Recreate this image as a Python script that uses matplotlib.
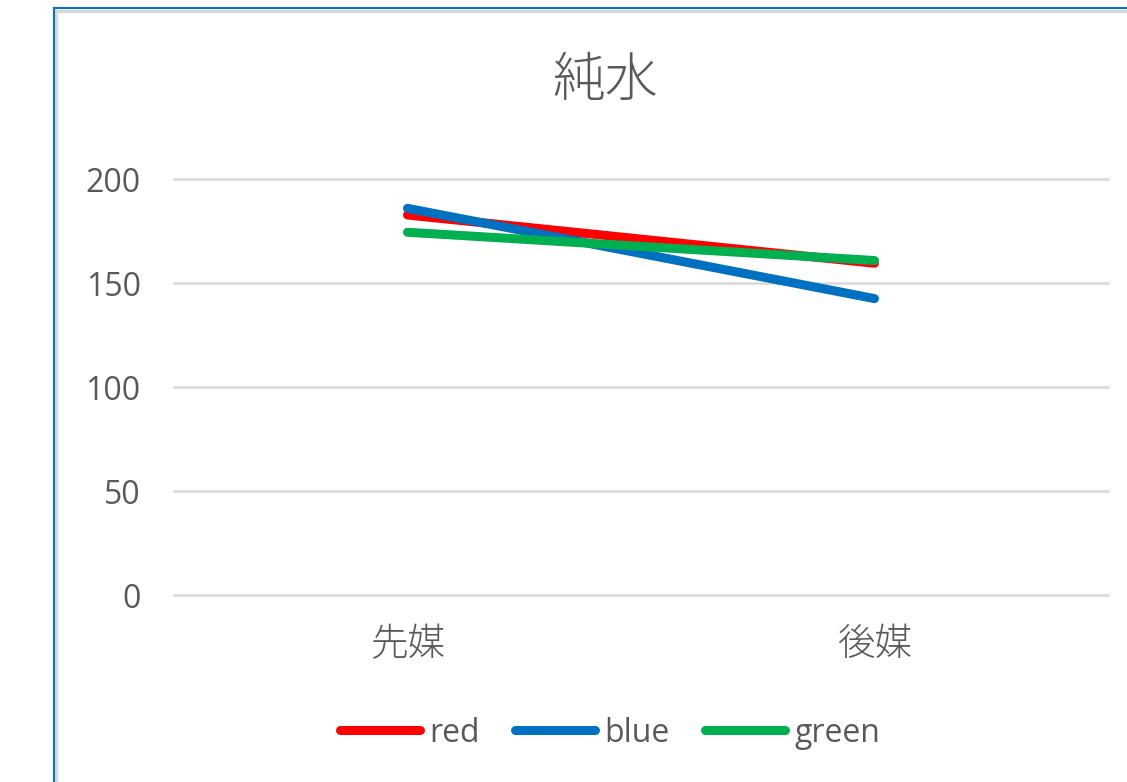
import matplotlib
matplotlib.use("Agg")
import matplotlib.pyplot as plt
from matplotlib.lines import Line2D

# データ
categories = ['先媒', '後媒']
red = [182.7, 159.5]
blue = [185.9, 142.5]
green = [174.4, 160.8]
yticks = [0, 50, 100, 150, 200]

plt.rcParams['font.family'] = ['Open Sans', 'Noto Sans CJK JP', 'DejaVu Sans']
gray = '#595959'

W, H = 1127, 782
fig = plt.figure(figsize=(W / 100, H / 100), dpi=100)

# 枠線 (左と上のみ見える)
fig.add_artist(Line2D([56 / W, 56 / W], [0, 1 - 11 / H], color='#d9d9d9', lw=2.5))
fig.add_artist(Line2D([56 / W, 1], [1 - 11 / H, 1 - 11 / H], color='#d9d9d9', lw=2.5))
fig.add_artist(Line2D([54 / W, 54 / W], [0, 1 - 8 / H], color='#0a6fc8', lw=1.5))
fig.add_artist(Line2D([54 / W, 1], [1 - 8 / H, 1 - 8 / H], color='#0a6fc8', lw=1.5))

ax = fig.add_axes([174 / W, 1 - 595 / H, 934 / W, 416 / H])
x = range(len(categories))
ax.plot(x, red, color='#ff0000', lw=6.5, solid_capstyle='round', label='red')
ax.plot(x, blue, color='#0070c0', lw=6.5, solid_capstyle='round', label='blue')
ax.plot(x, green, color='#00b050', lw=6.5, solid_capstyle='round', label='green')

ax.set_xlim(-0.5, 1.5)
ax.set_ylim(0, 200)
ax.set_yticks(yticks)
ax.set_xticks(list(x))
ax.set_xticklabels(categories, fontweight='light')
ax.grid(axis='y', color='#d9d9d9', lw=1.8)
ax.set_axisbelow(True)
for gl in ax.get_ygridlines():
    gl.set_clip_on(False)
for s in ax.spines.values():
    s.set_visible(False)
ax.tick_params(axis='y', length=0, pad=24, labelsize=23, labelcolor=gray)
ax.tick_params(axis='x', length=0, pad=22, labelsize=27, labelcolor=gray)

fig.text(605 / W, 1 - 82 / H, '純水', ha='center', va='center', fontsize=38,
         color=gray, fontweight='light')

fig.legend(loc='center', bbox_to_anchor=(610 / W, 1 - 733 / H), ncol=3, frameon=False,
           fontsize=23, labelcolor=gray, handlelength=2.5, handletextpad=0.3,
           columnspacing=1.1)

fig.savefig('out.png', dpi=100)
